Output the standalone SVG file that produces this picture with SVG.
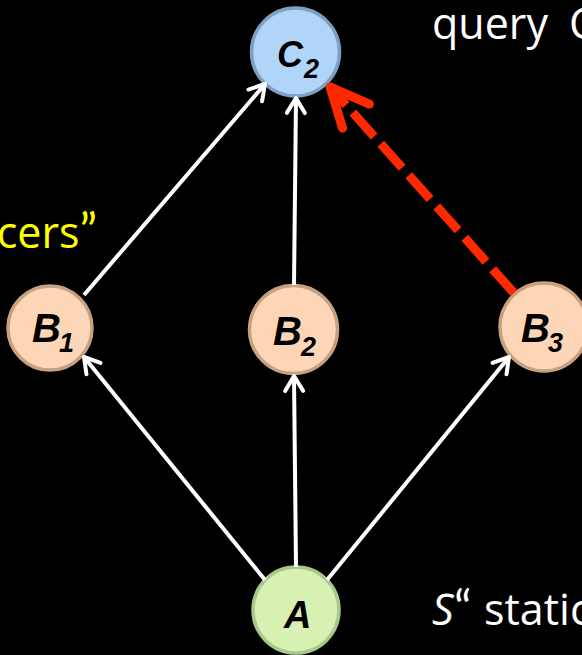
<svg xmlns="http://www.w3.org/2000/svg" width="582" height="655" viewBox="0 0 582 655">
<defs>
<style>
.nd{stroke-width:3.5}
.b{fill:#fcd6b6;stroke:#c7a17f}
.c{fill:#b0d5f9;stroke:#7e9fc2}
.a{fill:#d8f1b3;stroke:#a7c98b}
.lbl{font-family:"Liberation Sans",Arial,sans-serif;font-weight:bold;font-style:italic;fill:#000}
.sub{font-size:27px}
.w{stroke:#fff;stroke-width:4;fill:none;marker-end:url(#wa)}
.r{stroke:#ff2800;stroke-width:9;fill:none;stroke-dasharray:32 10;marker-end:url(#ra)}
.t{font-family:"Open Sans",Lato,sans-serif;font-size:43px}
.q{font-family:Lato,"Open Sans",sans-serif;font-size:48px}
</style>
<marker id="wa" markerUnits="userSpaceOnUse" orient="auto" viewBox="-20 -15 24 30" refX="0" refY="0" markerWidth="24" markerHeight="30">
<path d="M-15,-9 L0,0 L-15,9" fill="none" stroke="#fff" stroke-width="4" stroke-linecap="round" stroke-linejoin="round"/>
</marker>
<marker id="ra" markerUnits="userSpaceOnUse" orient="auto" viewBox="-50 -30 60 60" refX="0" refY="0" markerWidth="60" markerHeight="60">
<path d="M-39,-18 L0,0 L-39,18" fill="none" stroke="#ff2800" stroke-width="9" stroke-dasharray="none" stroke-linecap="round" stroke-linejoin="round"/>
</marker>
</defs>
<rect width="582" height="655" fill="#000"/>
<text class="t" x="432" y="39" fill="#fff">query<tspan x="569">C</tspan></text>
<text class="t" x="97" y="248" fill="#ffff00" text-anchor="end">cers<tspan class="q">”</tspan></text>
<text class="t" x="432" y="625" fill="#fff"><tspan font-style="italic">S</tspan><tspan class="q" x="454">“</tspan><tspan x="484">static</tspan></text>
<g id="C2"><circle class="nd c" cx="295.5" cy="52" r="44"/><text class="lbl" x="277" y="67" font-size="36">C<tspan class="sub" x="304" y="78">2</tspan></text></g>
<g id="B1"><circle class="nd b" cx="50" cy="328" r="42"/><text class="lbl" x="32" y="342" font-size="40">B<tspan class="sub" x="59" y="352">1</tspan></text></g>
<g id="B2"><circle class="nd b" cx="293.5" cy="329.5" r="44"/><text class="lbl" x="273" y="345" font-size="40">B<tspan class="sub" x="301" y="356">2</tspan></text></g>
<g id="B3"><circle class="nd b" cx="544" cy="327" r="44"/><text class="lbl" x="521" y="342" font-size="40">B<tspan class="sub" x="548" y="352">3</tspan></text></g>
<g id="A"><circle class="nd a" cx="296" cy="610" r="43"/><text class="lbl" x="284" y="628" font-size="38">A</text></g>
<g id="connectors">
<line class="w" x1="265" y1="580" x2="84" y2="357"/>
<line class="w" x1="296" y1="567" x2="294" y2="376"/>
<line class="w" x1="327" y1="580" x2="509" y2="357"/>
<line class="w" x1="84" y1="295" x2="265" y2="84"/>
<line class="w" x1="294" y1="285" x2="296" y2="98"/>
<line class="r" x1="514" y1="293" x2="330" y2="87"/>
</g>
</svg>
